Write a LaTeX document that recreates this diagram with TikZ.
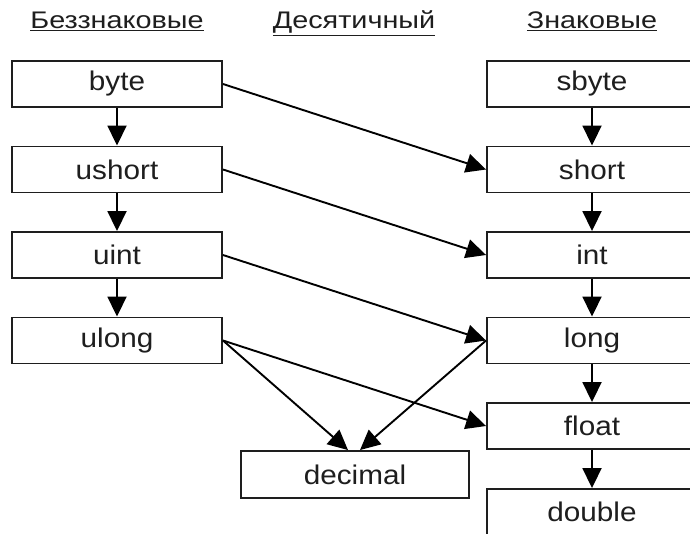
\documentclass[tikz,border=0pt]{standalone}
\usepackage{fontspec}
\setmainfont[FakeStretch=1.1]{Liberation Sans}
\newfontfamily\headfont[FakeStretch=1.2]{Liberation Sans}
\usetikzlibrary{arrows.meta,calc}
\definecolor{ink}{HTML}{1E1E1E}
\begin{document}
\begin{tikzpicture}[x=1pt,y=-1pt,
  typebox/.style={draw=ink,line width=1.9pt,minimum width=210pt,minimum height=46pt,
    inner sep=0pt,text=ink,font=\fontsize{27}{32}\selectfont},
  decbox/.style={typebox,minimum width=228pt,minimum height=47pt},
  header/.style={inner sep=0pt,anchor=base,text=ink,font=\headfont\fontsize{24}{28}\selectfont},
  conv/.style={draw=black,line width=1.9pt,-{Triangle[length=20pt,width=19pt]}}]
\useasboundingbox (0,0) rectangle (690,534);
\clip (0,0) rectangle (690,534);
\fill[white] (0,0) rectangle (690,534);

% column headings
\node[header] (hu) at (117,29) {\underline{Беззнаковые}};
\node[header] (hd) at (354,29) {\underline{Десятичный}};
\node[header] (hs) at (592,29) {\underline{Знаковые}};

% unsigned column
\node[typebox] (byte)   at (117,84)    {byte};
\node[typebox] (ushort) at (117,169.5) {ushort};
\node[typebox] (uint)   at (117,255)   {uint};
\node[typebox] (ulong)  at (117,340.5) {ulong};

% signed and floating-point column
\node[typebox] (sbyte)  at (592,84)    {sbyte};
\node[typebox] (short)  at (592,169.5) {short};
\node[typebox] (int)    at (592,255)   {int};
\node[typebox] (long)   at (592,340.5) {long};
\node[typebox] (float)  at (592,426)   {float};
\node[typebox] (double) at (592,512)   {double};

% decimal
\node[decbox] (decimal) at (355,474.5) {decimal};

% conversions down each column
\draw[conv] (byte) -- (ushort);
\draw[conv] (ushort) -- (uint);
\draw[conv] (uint) -- (ulong);
\draw[conv] (sbyte) -- (short);
\draw[conv] (short) -- (int);
\draw[conv] (int) -- (long);
\draw[conv] (long) -- (float);
\draw[conv] (float) -- (double);

% conversions across
\draw[conv] (byte.east) -- (short.west);
\draw[conv] (ushort.east) -- (int.west);
\draw[conv] (uint.east) -- (long.west);
\draw[conv] (ulong.east) -- (float.west);
\draw[conv] (ulong.east) -- ($(decimal.north)+(-7,0)$);
\draw[conv] (long.west) -- ($(decimal.north)+(5,0)$);
\end{tikzpicture}
\end{document}
